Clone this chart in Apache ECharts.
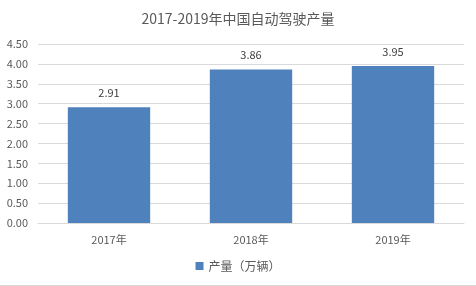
<!DOCTYPE html>
<html><head><meta charset="utf-8">
<script src="https://cdn.jsdelivr.net/npm/echarts@6/dist/echarts.min.js"></script>
<style>html,body{margin:0;padding:0;background:#fff}#c{width:476px;height:286px}</style>
</head><body><div id="c"></div>
<script>
var categories = ['2017年', '2018年', '2019年'];
var values = [2.91, 3.86, 3.95];
var seriesName = '产量（万辆）';
var titleText = '2017-2019年中国自动驾驶产量';
var font = '"Microsoft YaHei","Noto Sans CJK SC",sans-serif';
var chart = echarts.init(document.getElementById('c'));
chart.setOption({
  animation: false,
  title: {text: titleText, left: 'center', top: 7, textStyle: {fontSize: 14, fontWeight: 'normal', color: '#595959', fontFamily: font}},
  legend: {bottom: 9, itemWidth: 8, itemHeight: 8, icon: 'rect', textStyle: {fontSize: 12, color: '#595959', fontFamily: font}},
  grid: {left: 38, right: 12, top: 44, bottom: 63},
  xAxis: {type: 'category', data: categories,
    axisLine: {lineStyle: {color: '#d9d9d9'}}, axisTick: {show: false},
    axisLabel: {color: '#595959', fontSize: 11, margin: 11, fontFamily: font}},
  yAxis: {type: 'value', min: 0, max: 4.5, interval: 0.5,
    axisLine: {show: false}, axisTick: {show: false},
    splitLine: {lineStyle: {color: '#d9d9d9'}},
    axisLabel: {color: '#595959', fontSize: 11, margin: 10, fontFamily: font, formatter: function(v){return v.toFixed(2);}}},
  series: [{type: 'bar', name: seriesName, data: values, barWidth: '58%',
    itemStyle: {color: '#4f81bd'},
    label: {show: true, position: 'top', distance: 9, color: '#404040', fontSize: 11, fontFamily: font, formatter: function(p){return p.value.toFixed(2);}}}],
  graphic: [{type: 'line', shape: {x1: 0, y1: 285.5, x2: 476, y2: 285.5}, style: {stroke: '#d9d9d9', lineWidth: 1}}]
});
</script></body></html>
